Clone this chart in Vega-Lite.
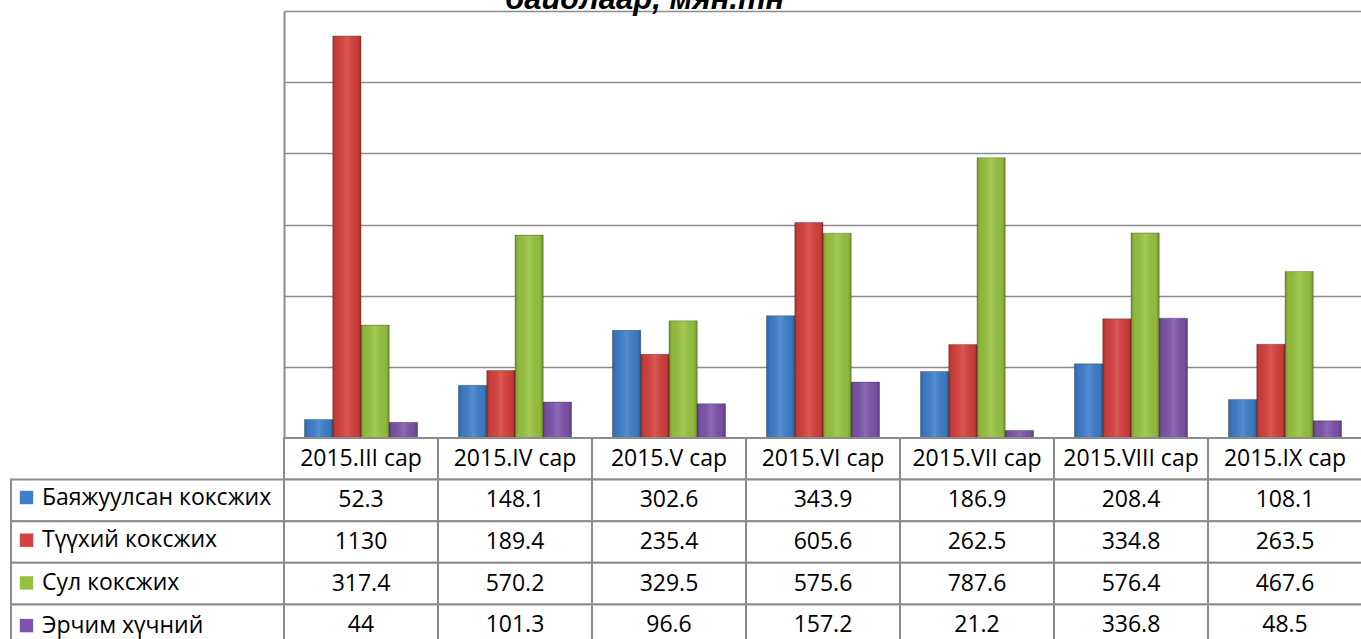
{
  "$schema": "https://vega.github.io/schema/vega-lite/v6.json",
  "padding": {"left": 10, "top": -16, "right": 0, "bottom": 0},
  "background": "white",
  "title": {
    "text": "байдлаар, мян.тн",
    "anchor": "start",
    "dx": 495,
    "dy": 5,
    "offset": 0,
    "font": "Liberation Sans",
    "fontSize": 31,
    "fontStyle": "italic",
    "fontWeight": "bold",
    "color": "black"
  },
  "datasets": {
    "main": [
      {"cat": "2015.III сар", "series": "Баяжуулсан коксжих", "value": 52.3},
      {"cat": "2015.III сар", "series": "Түүхий коксжих", "value": 1130},
      {"cat": "2015.III сар", "series": "Сул коксжих", "value": 317.4},
      {"cat": "2015.III сар", "series": "Эрчим хүчний", "value": 44},
      {"cat": "2015.IV сар", "series": "Баяжуулсан коксжих", "value": 148.1},
      {"cat": "2015.IV сар", "series": "Түүхий коксжих", "value": 189.4},
      {"cat": "2015.IV сар", "series": "Сул коксжих", "value": 570.2},
      {"cat": "2015.IV сар", "series": "Эрчим хүчний", "value": 101.3},
      {"cat": "2015.V сар", "series": "Баяжуулсан коксжих", "value": 302.6},
      {"cat": "2015.V сар", "series": "Түүхий коксжих", "value": 235.4},
      {"cat": "2015.V сар", "series": "Сул коксжих", "value": 329.5},
      {"cat": "2015.V сар", "series": "Эрчим хүчний", "value": 96.6},
      {"cat": "2015.VI сар", "series": "Баяжуулсан коксжих", "value": 343.9},
      {"cat": "2015.VI сар", "series": "Түүхий коксжих", "value": 605.6},
      {"cat": "2015.VI сар", "series": "Сул коксжих", "value": 575.6},
      {"cat": "2015.VI сар", "series": "Эрчим хүчний", "value": 157.2},
      {"cat": "2015.VII сар", "series": "Баяжуулсан коксжих", "value": 186.9},
      {"cat": "2015.VII сар", "series": "Түүхий коксжих", "value": 262.5},
      {"cat": "2015.VII сар", "series": "Сул коксжих", "value": 787.6},
      {"cat": "2015.VII сар", "series": "Эрчим хүчний", "value": 21.2},
      {"cat": "2015.VIII сар", "series": "Баяжуулсан коксжих", "value": 208.4},
      {"cat": "2015.VIII сар", "series": "Түүхий коксжих", "value": 334.8},
      {"cat": "2015.VIII сар", "series": "Сул коксжих", "value": 576.4},
      {"cat": "2015.VIII сар", "series": "Эрчим хүчний", "value": 336.8},
      {"cat": "2015.IX сар", "series": "Баяжуулсан коксжих", "value": 108.1},
      {"cat": "2015.IX сар", "series": "Түүхий коксжих", "value": 263.5},
      {"cat": "2015.IX сар", "series": "Сул коксжих", "value": 467.6},
      {"cat": "2015.IX сар", "series": "Эрчим хүчний", "value": 48.5}
    ],
    "cats": [
      {"cat": "2015.III сар"}, {"cat": "2015.IV сар"}, {"cat": "2015.V сар"},
      {"cat": "2015.VI сар"}, {"cat": "2015.VII сар"}, {"cat": "2015.VIII сар"},
      {"cat": "2015.IX сар"}
    ],
    "sers": [
      {"series": "Баяжуулсан коксжих"}, {"series": "Түүхий коксжих"},
      {"series": "Сул коксжих"}, {"series": "Эрчим хүчний"}
    ]
  },
  "columns": 2,
  "spacing": 0,
  "align": "each",
  "bounds": "flush",
  "resolve": {"scale": {"color": "independent", "x": "independent", "y": "independent"}, "legend": {"color": "independent"}},
  "config": {
    "view": {"stroke": null},
    "font": "Open Sans",
    "text": {"font": "Open Sans", "fontSize": 23, "color": "black"}
  },
  "concat": [
    {
      "width": 273,
      "height": 427,
      "data": {"values": []},
      "mark": "point"
    },
    {
      "width": 1078,
      "height": 427,
      "data": {"name": "main"},
      "encoding": {
        "x": {"field": "cat", "type": "nominal", "sort": null, "scale": {"paddingInner": 0, "paddingOuter": 0}, "axis": null},
        "xOffset": {"field": "series", "type": "nominal", "sort": null, "scale": {"paddingInner": 0, "paddingOuter": 0.726}},
        "y": {
          "field": "value", "type": "quantitative",
          "scale": {"domain": [0, 1200], "nice": false},
          "axis": {
            "values": [0, 200, 400, 600, 800, 1000, 1200],
            "labels": false, "ticks": false, "title": null,
            "domainColor": "#8c8c8c", "domainWidth": 2,
            "gridColor": "#8c8c8c", "gridWidth": 1.4, "gridOpacity": 1
          }
        }
      },
      "layer": [
        {
          "mark": {"type": "bar"},
          "encoding": {
            "color": {
              "field": "series", "type": "nominal", "sort": null,
              "scale": {
                "domain": ["Баяжуулсан коксжих", "Түүхий коксжих", "Сул коксжих", "Эрчим хүчний"],
                "range": ["#3d7ec9", "#d4403c", "#97c23f", "#7d54aa"]
              },
              "legend": null
            }
          }
        },
        {
          "mark": {
            "type": "bar",
            "stroke": "rgba(0,0,0,0.3)",
            "strokeWidth": 0.8,
            "fill": {
              "gradient": "linear", "x1": 0, "y1": 0, "x2": 1, "y2": 0,
              "stops": [
                {"offset": 0, "color": "rgba(0,0,0,0.22)"},
                {"offset": 0.12, "color": "rgba(0,0,0,0.05)"},
                {"offset": 0.5, "color": "rgba(255,255,255,0.12)"},
                {"offset": 0.88, "color": "rgba(0,0,0,0.05)"},
                {"offset": 1, "color": "rgba(0,0,0,0.25)"}
              ]
            }
          }
        }
      ]
    },
    {
      "width": 273,
      "height": 208,
      "data": {"name": "sers"},
      "encoding": {
        "y": {"field": "series", "type": "nominal", "scale": {"domain": ["hdr", "Баяжуулсан коксжих", "Түүхий коксжих", "Сул коксжих", "Эрчим хүчний"], "paddingInner": 0, "paddingOuter": 0}, "axis": null}
      },
      "layer": [
        {
          "mark": {"type": "rect", "fill": "white", "stroke": "#8c8c8c", "strokeWidth": 2}
        },
        {
          "mark": {"type": "point", "filled": true, "opacity": 0},
          "encoding": {
            "color": {
              "field": "series", "type": "nominal", "sort": null,
              "scale": {
                "domain": ["Баяжуулсан коксжих", "Түүхий коксжих", "Сул коксжих", "Эрчим хүчний"],
                "range": ["#3d7ec9", "#d4403c", "#97c23f", "#7d54aa"]
              },
              "legend": {
                "orient": "bottom-left",
                "offset": 8,
                "padding": 0,
                "title": null,
                "symbolType": "square",
                "symbolSize": 180,
                "symbolOpacity": 1,
                "symbolStrokeWidth": 0,
                "symbolOffset": -4,
                "labelFont": "Open Sans",
                "labelFontSize": 23,
                "labelColor": "black",
                "labelLimit": 400,
                "labelOffset": 4,
                "rowPadding": 18.7
              }
            }
          }
        }
      ]
    },
    {
      "width": 1078,
      "height": 208,
      "layer": [
        {
          "data": {"name": "cats"},
          "mark": {"type": "rect", "fill": "white", "stroke": "#8c8c8c", "strokeWidth": 2},
          "encoding": {
            "x": {"field": "cat", "type": "nominal", "sort": null, "scale": {"paddingInner": 0, "paddingOuter": 0}, "axis": null},
            "y": {"datum": "hdr", "type": "nominal", "scale": {"domain": ["hdr", "Баяжуулсан коксжих", "Түүхий коксжих", "Сул коксжих", "Эрчим хүчний"], "paddingInner": 0, "paddingOuter": 0}, "axis": null}
          }
        },
        {
          "data": {"name": "main"},
          "mark": {"type": "rect", "fill": "white", "stroke": "#8c8c8c", "strokeWidth": 2},
          "encoding": {
            "x": {"field": "cat", "type": "nominal", "sort": null, "axis": null},
            "y": {"field": "series", "type": "nominal", "axis": null}
          }
        },
        {
          "data": {"name": "cats"},
          "mark": {"type": "text"},
          "encoding": {
            "x": {"field": "cat", "type": "nominal", "sort": null, "axis": null},
            "y": {"datum": "hdr", "type": "nominal", "axis": null},
            "text": {"field": "cat", "type": "nominal"}
          }
        },
        {
          "data": {"name": "main"},
          "mark": {"type": "text"},
          "encoding": {
            "x": {"field": "cat", "type": "nominal", "sort": null, "axis": null},
            "y": {"field": "series", "type": "nominal", "axis": null},
            "text": {"field": "value", "type": "nominal"}
          }
        }
      ]
    }
  ]
}
